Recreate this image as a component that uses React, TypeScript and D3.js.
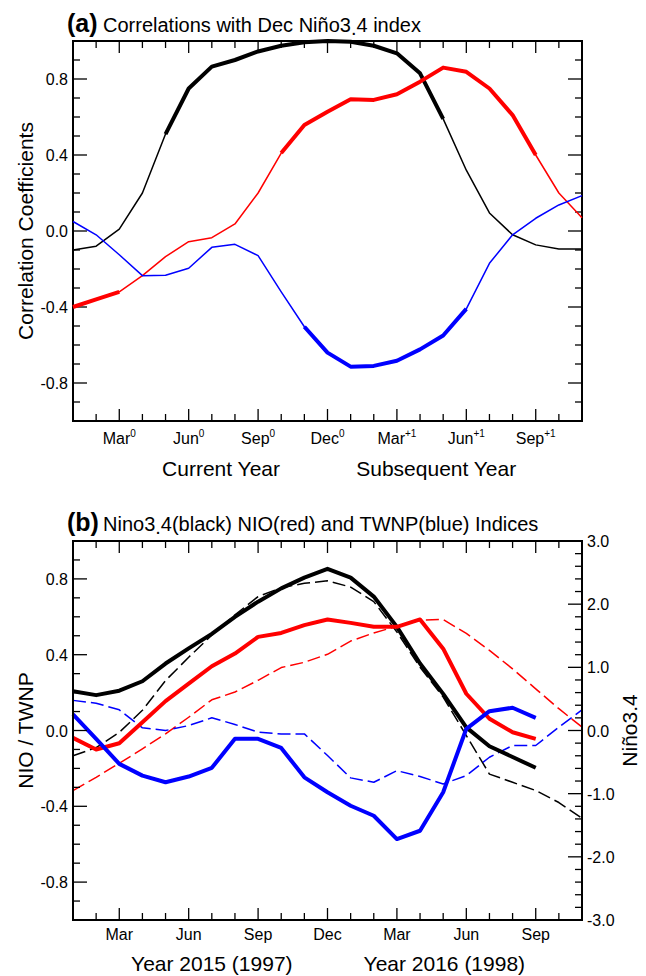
import React from "react";
import * as d3 from "d3";

// months from Jan of current year (0) to Nov of the following year (22)
const nMonths = 23;
const tickMonths = [2, 5, 8, 11, 14, 17, 20];
const tickNames = ["Mar", "Jun", "Sep", "Dec", "Mar", "Jun", "Sep"];
const tickSups = ["0", "0", "0", "0", "+1", "+1", "+1"];

// (a) correlations with Dec Nino3.4
const corrNino = [-0.10, -0.08, 0.01, 0.20, 0.51, 0.75, 0.865, 0.90, 0.945, 0.975, 0.993, 1.0, 0.996, 0.975, 0.935, 0.83, 0.59, 0.32, 0.095, -0.02, -0.073, -0.095, -0.095];
const corrNIO = [-0.40, -0.36, -0.32, -0.235, -0.135, -0.056, -0.035, 0.037, 0.20, 0.41, 0.558, 0.628, 0.693, 0.69, 0.72, 0.786, 0.86, 0.838, 0.75, 0.61, 0.40, 0.20, 0.07];
const corrTWNP = [0.05, -0.02, -0.125, -0.235, -0.233, -0.196, -0.086, -0.07, -0.13, -0.32, -0.504, -0.64, -0.714, -0.71, -0.683, -0.623, -0.55, -0.41, -0.17, -0.02, 0.067, 0.137, 0.186];
// significant stretches (drawn thick)
const sigNino = [[4, 16]];
const sigNIO = [[0, 2], [9, 20]];
const sigTWNP = [[10, 17]];

// (b) indices, 2015/16 (solid) and 1997/98 (dashed)
const nino15 = [0.62, 0.56, 0.63, 0.78, 1.06, 1.30, 1.53, 1.80, 2.04, 2.25, 2.42, 2.56, 2.42, 2.12, 1.64, 1.06, 0.58, 0.05, -0.25, -0.42, -0.59];
const nino97 = [-0.40, -0.27, -0.03, 0.32, 0.79, 1.16, 1.51, 1.83, 2.12, 2.26, 2.33, 2.37, 2.27, 2.04, 1.56, 1.0, 0.53, -0.08, -0.69, -0.82, -0.95, -1.14, -1.39];
const nio15 = [-0.039, -0.10, -0.067, 0.044, 0.155, 0.247, 0.339, 0.406, 0.494, 0.515, 0.556, 0.586, 0.568, 0.547, 0.547, 0.586, 0.432, 0.194, 0.062, -0.009, -0.044];
const nio97 = [-0.317, -0.247, -0.173, -0.097, -0.018, 0.07, 0.162, 0.203, 0.265, 0.332, 0.36, 0.402, 0.472, 0.515, 0.55, 0.582, 0.586, 0.512, 0.423, 0.325, 0.22, 0.115, 0.018];
const twnp15 = [0.085, -0.044, -0.176, -0.238, -0.273, -0.243, -0.197, -0.044, -0.044, -0.092, -0.247, -0.326, -0.397, -0.45, -0.573, -0.529, -0.326, 0.009, 0.102, 0.12, 0.067];
const twnp97 = [0.159, 0.144, 0.109, 0.014, 0.0, 0.026, 0.067, 0.032, -0.009, -0.018, -0.018, -0.132, -0.25, -0.273, -0.212, -0.243, -0.282, -0.238, -0.141, -0.079, -0.079, 0.018, 0.109];

const leftMajor = [-0.8, -0.4, 0, 0.4, 0.8];
const leftLabels = ["-0.8", "-0.4", "0.0", "0.4", "0.8"];
const rightMajor = [-3, -2, -1, 0, 1, 2, 3];
const rightLabels = ["-3.0", "-2.0", "-1.0", "0.0", "1.0", "2.0", "3.0"];

const FONT = "Liberation Sans, Arial, Helvetica, sans-serif";
const X0 = 73, X1 = 582;
const x = d3.scaleLinear().domain([0, nMonths - 1]).range([X0, X1]);
const yA = d3.scaleLinear().domain([-1, 1]).range([421, 41]);
const yB = d3.scaleLinear().domain([-1, 1]).range([920, 541]);
const yR = d3.scaleLinear().domain([-3, 3]).range([920, 541]);

const tenths = d3.range(-9, 10).map(d => d / 10);
const fifths = d3.range(-15, 16).map(d => d / 5);

function Frame({ y, right }: { y: d3.ScaleLinear<number, number>, right?: boolean }) {
  const [yb, yt] = y.range();
  const isMajor = (v: number) => leftMajor.some(m => Math.abs(m - v) < 1e-6);
  const ticks: any[] = [];
  d3.range(1, nMonths - 1).forEach(i => {
    const len = tickMonths.includes(i) ? 12 : 7;
    ticks.push(<line key={"b" + i} x1={x(i)} x2={x(i)} y1={yb} y2={yb - len} />);
    ticks.push(<line key={"t" + i} x1={x(i)} x2={x(i)} y1={yt} y2={yt + len} />);
  });
  tenths.forEach(v => {
    const len = isMajor(v) ? 14 : 7;
    ticks.push(<line key={"l" + v} x1={X0} x2={X0 + len} y1={y(v)} y2={y(v)} />);
    if (!right) ticks.push(<line key={"r" + v} x1={X1} x2={X1 - len} y1={y(v)} y2={y(v)} />);
  });
  if (right) {
    fifths.forEach(v => {
      const len = Math.abs(v - Math.round(v)) < 1e-6 ? 14 : 7;
      ticks.push(<line key={"rr" + v} x1={X1} x2={X1 - len} y1={yR(v)} y2={yR(v)} />);
    });
  }
  return (
    <g stroke="#000" strokeWidth={1.3} fill="none">
      {ticks}
      <rect x={X0} y={yt} width={X1 - X0} height={yb - yt} strokeWidth={2} />
    </g>
  );
}

function Series({ data, y, color, width, dash }: { data: number[], y: d3.ScaleLinear<number, number>, color: string, width: number, dash?: string }) {
  const line = d3.line<number>().x((d, i) => x(i)).y(d => y(d));
  return <path d={line(data) || ""} fill="none" stroke={color} strokeWidth={width} strokeDasharray={dash} strokeLinejoin="round" />;
}

function SigSeries({ data, sig, color }: { data: number[], sig: number[][], color: string }) {
  const line = d3.line<[number, number]>().x(d => x(d[0])).y(d => yA(d[1]));
  const pts = data.map((d, i) => [i, d] as [number, number]);
  return (
    <g>
      <path d={line(pts) || ""} fill="none" stroke={color} strokeWidth={1.5} strokeLinejoin="round" />
      {sig.map(([s, e], k) => (
        <path key={k} d={line(pts.slice(s, e + 1)) || ""} fill="none" stroke={color} strokeWidth={4} strokeLinejoin="round" />
      ))}
    </g>
  );
}

function MonthLabels({ yPos, sups }: { yPos: number, sups?: boolean }) {
  return (
    <g fontSize={16} textAnchor="middle">
      {tickMonths.map((m, k) => (
        <text key={k} x={x(m)} y={yPos}>
          {tickNames[k]}
          {sups && <tspan fontSize={10} dy={-7}>{tickSups[k]}</tspan>}
        </text>
      ))}
    </g>
  );
}

function LeftLabels({ y }: { y: d3.ScaleLinear<number, number> }) {
  return (
    <g fontSize={16} textAnchor="end">
      {leftMajor.map((v, k) => (
        <text key={k} x={68} y={y(v) + 6}>{leftLabels[k]}</text>
      ))}
    </g>
  );
}

export default function App() {
  const dash = "13 5";
  return (
    <svg width={646} height={976} style={{ position: "absolute", left: 0, top: 0, background: "#fff" }} fontFamily={FONT}>
      <rect width={646} height={976} fill="#fff" />
      {/* panel (a) */}
      <text x={67} y={32} fontSize={25} fontWeight="bold">(a)</text>
      <text x={103} y={32} fontSize={20}>Correlations with Dec Niño3<tspan dy={3}>.</tspan><tspan dy={-3}>4 index</tspan></text>
      <Frame y={yA} />
      <SigSeries data={corrNino} sig={sigNino} color="#000" />
      <SigSeries data={corrNIO} sig={sigNIO} color="#ff0000" />
      <SigSeries data={corrTWNP} sig={sigTWNP} color="#0000ff" />
      <LeftLabels y={yA} />
      <MonthLabels yPos={444} sups />
      <text x={x(6.4)} y={476} fontSize={21} textAnchor="middle">Current Year</text>
      <text x={x(15.7)} y={476} fontSize={21} textAnchor="middle">Subsequent Year</text>
      <text transform={`translate(33,${yA(0)}) rotate(-90)`} fontSize={21} textAnchor="middle">Correlation Coefficients</text>

      {/* panel (b) */}
      <text x={67} y={531} fontSize={25} fontWeight="bold">(b)</text>
      <text x={103} y={531} fontSize={20}>Nino3<tspan dy={3}>.</tspan><tspan dy={-3}>4(black) NIO(red) and TWNP(blue) Indices</tspan></text>
      <Series data={nino97} y={yR} color="#000" width={1.5} dash={dash} />
      <Series data={nio97} y={yB} color="#ff0000" width={1.5} dash={dash} />
      <Series data={twnp97} y={yB} color="#0000ff" width={1.5} dash={dash} />
      <Series data={nino15} y={yR} color="#000" width={4} />
      <Series data={nio15} y={yB} color="#ff0000" width={4} />
      <Series data={twnp15} y={yB} color="#0000ff" width={4} />
      <Frame y={yB} right />
      <LeftLabels y={yB} />
      <g fontSize={16} textAnchor="start">
        {rightMajor.map((v, k) => (
          <text key={k} x={587} y={yR(v) + 6}>{rightLabels[k]}</text>
        ))}
      </g>
      <MonthLabels yPos={940} />
      <text x={x(6.0)} y={971} fontSize={21} textAnchor="middle">Year 2015 (1997)</text>
      <text x={x(16.05)} y={971} fontSize={21} textAnchor="middle">Year 2016 (1998)</text>
      <text transform={`translate(33,${yB(0)}) rotate(-90)`} fontSize={21} textAnchor="middle">NIO / TWNP</text>
      <text transform={`translate(637,${yB(0)}) rotate(-90)`} fontSize={21} textAnchor="middle">Niño3.4</text>
    </svg>
  );
}
